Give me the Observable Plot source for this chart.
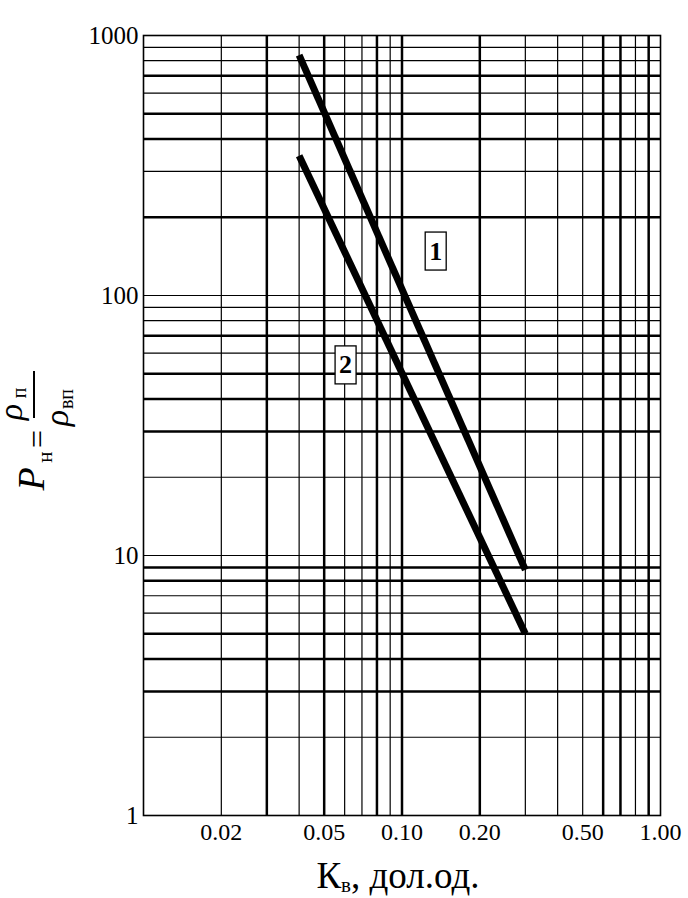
<!DOCTYPE html>
<html><head><meta charset="utf-8">
<script src="https://cdn.jsdelivr.net/npm/d3@7"></script>
<script src="https://cdn.jsdelivr.net/npm/@observablehq/plot@0.6"></script>
<style>html,body{margin:0;padding:0;background:#fff} #chart svg{display:block}</style>
</head><body><div id="chart"></div>
<script>
// ---- data ----
const xTicks = [0.02, 0.05, 0.1, 0.2, 0.5, 1];
const xTickLabels = ["0.02", "0.05", "0.10", "0.20", "0.50", "1.00"];
const yTicks = [1, 5, 10, 50, 100, 500, 1000];
const xGridThin = [0.02, 0.04, 0.06, 0.07, 0.09, 0.3, 0.4, 0.5, 0.8];
const xGridThick = [0.03, 0.05, 0.08, 0.1, 0.2, 0.6, 0.7, 0.9];
const yGridThin = [2, 6, 7, 10, 20, 60, 80, 90, 100, 300, 600, 800, 900];
const yGridThick = [3, 4, 5, 8, 9, 30, 40, 50, 70, 200, 400, 500, 700];
const kv = [0.04, 0.3];
const curve1 = [840, 8.8];
const curve2 = [345, 5.0];
const labelNames = ["1", "2"];
const labelKv = [0.135, 0.0605];
const labelP = [148, 54];

const series1 = kv.map((k, i) => ({kv: k, p: curve1[i]}));
const series2 = kv.map((k, i) => ({kv: k, p: curve2[i]}));
const labels = labelNames.map((n, i) => ({name: n, kv: labelKv[i], p: labelP[i]}));

const serif = "Liberation Serif, Times New Roman, serif";

const chart = Plot.plot({
  width: 688, height: 898,
  marginLeft: 143, marginRight: 28, marginTop: 35, marginBottom: 83,
  style: {fontFamily: serif, background: "#fff", color: "#000"},
  x: {type: "log", domain: [0.01, 1]},
  y: {type: "log", domain: [1, 1000]},
  marks: [
    Plot.ruleX(xGridThin, {stroke: "#000", strokeWidth: 1.2}),
    Plot.ruleX(xGridThick, {stroke: "#000", strokeWidth: 2.5}),
    Plot.ruleY(yGridThin, {stroke: "#000", strokeWidth: 1.2}),
    Plot.ruleY(yGridThick, {stroke: "#000", strokeWidth: 2.5}),
    Plot.frame({stroke: "#000", strokeWidth: 1.6}),
    Plot.line(series1, {x: "kv", y: "p", stroke: "#000", strokeWidth: 7, strokeLinecap: "butt"}),
    Plot.line(series2, {x: "kv", y: "p", stroke: "#000", strokeWidth: 7, strokeLinecap: "butt"}),
    Plot.axisX({ticks: xTicks, tickFormat: d => xTickLabels[xTicks.indexOf(d)], tickSize: 0, tickPadding: 7, fontSize: 24, fontFamily: serif, label: null}),
    Plot.axisY({ticks: yTicks, tickFormat: d => String(d), tickSize: 0, tickPadding: 5, fontSize: 25, fontFamily: serif, label: null}),
    Plot.text(labels, {x: "kv", y: "p", text: "name", fontSize: 26, fontWeight: "bold", fontFamily: serif, className: "curve-label"})
  ]
});
document.getElementById("chart").appendChild(chart);

const svg = d3.select(chart);
svg.selectAll("text").attr("font-family", serif);

// boxes around curve labels
svg.selectAll(".curve-label text").each(function() {
  const b = this.getBBox();
  const cx = b.x + b.width / 2, cy = b.y + b.height / 2;
  const w = 21, h = 38;
  const r = d3.select(this.parentNode).insert("rect", () => this)
    .attr("x", cx - w / 2).attr("y", cy - h / 2)
    .attr("width", w).attr("height", h)
    .attr("fill", "#fff").attr("stroke", "#000").attr("stroke-width", 1.3);
  const t = this.getAttribute("transform");
  if (t) r.attr("transform", t);
});

// x axis title
const xt = svg.append("text")
  .attr("x", 398).attr("y", 888)
  .attr("text-anchor", "middle")
  .attr("font-family", serif).attr("font-size", 37).attr("fill", "#000");
xt.append("tspan").text("К");
xt.append("tspan").attr("font-size", 21).attr("dy", 4).text("в");
xt.append("tspan").attr("dy", -4).text(", дол.од.");

// y axis title (rotated)
const yt = svg.append("g").attr("transform", "translate(47,415) rotate(-90)")
  .attr("font-family", serif).attr("fill", "#000");
yt.append("text").attr("x", -64).attr("y", -3).attr("font-size", 38).attr("font-style", "italic").text("P");
yt.append("text").attr("x", -42).attr("y", 5).attr("font-size", 21).text("н");
yt.append("text").attr("x", -24).attr("y", 1).attr("font-size", 32).text("=");
yt.append("line").attr("x1", -3).attr("x2", 44).attr("y1", -13).attr("y2", -13)
  .attr("stroke", "#000").attr("stroke-width", 2);
yt.append("text").attr("x", 3).attr("y", -25).attr("font-size", 34).attr("font-style", "italic").text("ρ");
yt.append("text").attr("x", 22).attr("y", -21).attr("font-size", 20).text("п");
yt.append("text").attr("x", -3).attr("y", 21).attr("font-size", 34).attr("font-style", "italic").text("ρ");
yt.append("text").attr("x", 16).attr("y", 26).attr("font-size", 20).text("вп");
</script>
</body></html>
